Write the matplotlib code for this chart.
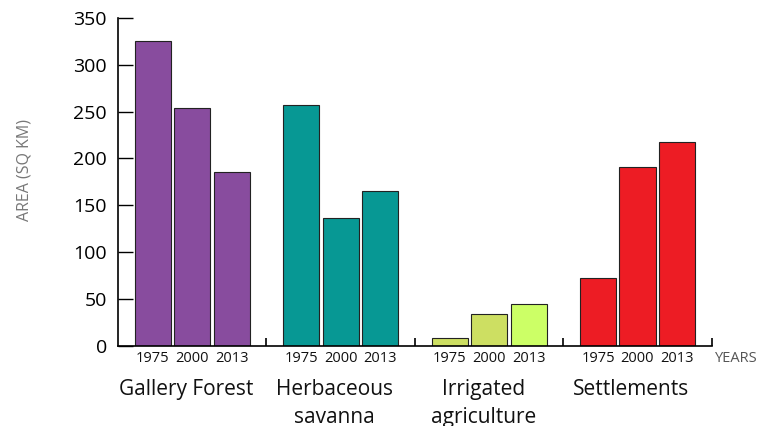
import matplotlib.pyplot as plt
import numpy as np
from matplotlib.transforms import blended_transform_factory

# land cover area by class and survey year
categories = ["Gallery Forest", "Herbaceous\nsavanna", "Irrigated\nagriculture", "Settlements"]
years = ["1975", "2000", "2013"]
gallery_forest = [325, 254, 185]
herbaceous_savanna = [257, 136, 165]
irrigated_agriculture = [8, 33.5, 45]
settlements = [72, 190.5, 217.5]
values = [gallery_forest, herbaceous_savanna, irrigated_agriculture, settlements]
colors = [
    ["#884c9e", "#884c9e", "#884c9e"],
    ["#079894", "#079894", "#079894"],
    ["#cddf62", "#cddf62", "#ccff66"],
    ["#ed1c24", "#ed1c24", "#ed1c24"],
]

plt.rcParams['font.family'] = ['Open Sans', 'DejaVu Sans']

W, H = 761, 426
fig = plt.figure(figsize=(W / 100, H / 100), dpi=100)
ax = fig.add_axes([118 / W, (H - 345.7) / H, (711.7 - 118) / W, (345.7 - 18) / H])

width = 0.243
step = 0.266
for i, (vals, cols) in enumerate(zip(values, colors)):
    xs = i + (np.arange(len(years)) - 1) * step
    ax.bar(xs, vals, width=width, color=cols, edgecolor="#222222", linewidth=0.8, zorder=2)

ax.set_xlim(-0.5, 3.5)
ax.set_ylim(0, 350)
ax.set_yticks(np.arange(0, 351, 50))
ax.tick_params(axis='y', direction='in', length=11, width=1, labelsize=14, pad=8)
ax.set_xticks([0.5, 1.5, 2.5, 3.5])
ax.set_xticklabels([])
ax.tick_params(axis='x', direction='in', length=6, width=1.2)

for s in ['top', 'right']:
    ax.spines[s].set_visible(False)
for s in ['left', 'bottom']:
    ax.spines[s].set_linewidth(1.2)
ax.spines['left'].set_bounds(0, 350)

# year labels and class names under the axis
trans = blended_transform_factory(ax.transData, fig.transFigure)
for i, cat in enumerate(categories):
    for j, yr in enumerate(years):
        ax.text(i + (j - 1) * step, (H - 358) / H, yr, transform=trans,
                ha='center', va='center', fontsize=10.5, color="#111111")
    ax.text(i - 0.04, (H - 379) / H, cat, transform=trans, ha='center', va='top',
            fontsize=15, color="#111111", linespacing=1.45)

fig.text(715 / W, (H - 358) / H, "YEARS", ha='left', va='center', fontsize=10.5, color="#555555")
fig.text(25 / W, (H - 170) / H, "AREA (SQ KM)", rotation=90, ha='center', va='center',
         fontsize=11.5, color="#777777")

fig.savefig("out.png", dpi=100)
